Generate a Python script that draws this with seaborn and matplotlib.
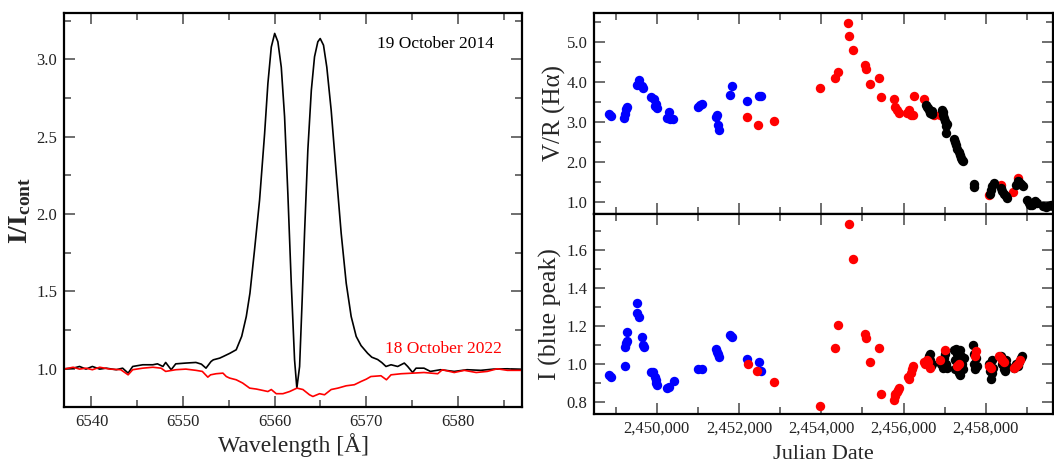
import numpy as np
import pandas as pd
import matplotlib
matplotlib.use("Agg")
import matplotlib.pyplot as plt
from matplotlib.ticker import MultipleLocator, FuncFormatter, FormatStrFormatter
import seaborn as sns

# ---------------- data: left panel (H-alpha profiles) ----------------
wl_2014 = [6537.0, 6538.0, 6538.7, 6539.4, 6540.1, 6540.9, 6541.6, 6542.7, 6543.4, 6544.0,
           6544.5, 6545.6, 6546.7, 6547.2, 6547.8, 6548.1, 6548.7, 6549.2, 6550.3, 6551.4,
           6552.0, 6552.5, 6553.05, 6553.3, 6554.0, 6554.4, 6555.1, 6555.8, 6556.4, 6556.9,
           6557.3, 6557.8, 6558.35, 6558.9, 6559.26, 6559.63, 6560.0, 6560.35, 6560.72, 6561.08,
           6561.44, 6561.81, 6562.17, 6562.42, 6562.72, 6563.0, 6563.26, 6563.62, 6564.0, 6564.35,
           6564.71, 6564.97, 6565.33, 6565.69, 6566.17, 6566.72, 6567.26, 6567.81, 6568.35, 6568.9,
           6569.43, 6570.15, 6570.6, 6571.24, 6571.7, 6572.15, 6572.7, 6573.43, 6574.15, 6574.52,
           6575.06, 6575.43, 6576.3, 6577.0, 6578.1, 6579.6, 6581.0, 6582.5, 6583.9, 6585.4, 6587.0]
fl_2014 = [1.000, 1.004, 1.015, 0.998, 1.015, 0.998, 1.004, 0.994, 1.004, 0.972,
           1.015, 1.026, 1.026, 1.032, 1.015, 1.041, 0.994, 1.032, 1.037, 1.041,
           1.030, 1.004, 1.047, 1.058, 1.069, 1.080, 1.100, 1.123, 1.210, 1.338,
           1.489, 1.768, 2.090, 2.520, 2.845, 3.080, 3.168, 3.114, 2.950, 2.630,
           2.130, 1.553, 1.058, 0.875, 1.015, 1.445, 1.876, 2.414, 2.800, 3.017,
           3.114, 3.135, 3.092, 2.950, 2.670, 2.264, 1.876, 1.553, 1.338, 1.209,
           1.150, 1.100, 1.075, 1.060, 1.040, 1.015, 1.026, 1.015, 1.037, 1.015,
           0.976, 1.004, 1.004, 0.983, 0.994, 0.983, 0.994, 0.990, 0.998, 1.000, 0.994]

wl_2022 = [6537.0, 6538.0, 6538.7, 6539.4, 6540.1, 6540.9, 6542.0, 6543.2, 6544.0, 6544.5,
           6545.6, 6546.7, 6547.6, 6548.1, 6549.2, 6550.3, 6551.4, 6552.1, 6552.7, 6553.0,
           6553.6, 6554.35, 6554.72, 6555.08, 6555.8, 6556.5, 6557.27, 6558.0, 6558.72, 6559.26,
           6559.63, 6560.17, 6560.9, 6561.63, 6562.43, 6563.08, 6563.8, 6564.17, 6564.9, 6565.44,
           6566.17, 6566.9, 6567.8, 6568.7, 6569.43, 6570.0, 6570.5, 6571.6, 6572.2, 6572.7,
           6573.8, 6575.1, 6576.3, 6577.8, 6578.3, 6579.6, 6580.7, 6582.0, 6583.2, 6584.3,
           6585.4, 6587.0]
fl_2022 = [0.998, 1.010, 0.998, 1.004, 0.994, 1.010, 0.998, 0.994, 0.961, 0.994,
           1.004, 1.010, 1.004, 0.983, 0.994, 0.998, 0.990, 0.983, 0.946, 0.961,
           0.968, 0.972, 0.950, 0.940, 0.929, 0.908, 0.875, 0.869, 0.860, 0.853,
           0.866, 0.839, 0.839, 0.853, 0.875, 0.866, 0.832, 0.821, 0.839, 0.832,
           0.866, 0.875, 0.890, 0.897, 0.918, 0.933, 0.950, 0.955, 0.929, 0.961,
           0.968, 0.972, 0.976, 0.968, 0.994, 0.976, 0.990, 0.976, 0.983, 1.000,
           0.990, 0.990]

# ---------------- data: V/R (top right) ----------------
vr_blue_jd = [2448839, 2448888, 2449211, 2449230, 2449260, 2449285, 2449513, 2449577, 2449640, 2449674,
              2449854, 2449935, 2449960, 2449975, 2450000, 2450258, 2450300, 2450320, 2450400,
              2451013, 2451050, 2451096, 2451437, 2451470, 2451480, 2451500, 2451768, 2451826,
              2452191, 2452474, 2452532]
vr_blue = [3.20, 3.15, 3.09, 3.19, 3.31, 3.38, 3.92, 4.05, 3.90, 3.85,
           3.63, 3.58, 3.40, 3.45, 3.34, 3.10, 3.24, 3.07, 3.08,
           3.37, 3.41, 3.45, 3.12, 3.17, 2.93, 2.80, 3.67, 3.88,
           3.51, 3.65, 3.64]

vr_red_jd = [2452200, 2452459, 2452856, 2453976, 2454342, 2454398, 2454658, 2454682, 2454772,
             2455072, 2455080, 2455177, 2455413, 2455454, 2455761, 2455790, 2455850, 2455883,
             2456087, 2456140, 2456190, 2456233, 2456249, 2456493, 2456736, 2456882,
             2458075, 2458359, 2458669, 2458781]
vr_red = [3.12, 2.91, 3.03, 3.85, 4.09, 4.24, 5.46, 5.15, 4.78,
          4.42, 4.32, 3.94, 4.09, 3.61, 3.57, 3.38, 3.29, 3.22,
          3.22, 3.30, 3.17, 3.17, 3.65, 3.57, 3.17, 3.17,
          1.18, 1.43, 1.26, 1.60]

vr_black_jd = [2456540, 2456570, 2456600, 2456620, 2456650, 2456680, 2456700,
               2456930, 2456950, 2456970, 2456990, 2457010, 2457030, 2457037, 2457060,
               2457220, 2457250, 2457280, 2457310, 2457340, 2457370, 2457400, 2457430, 2457450,
               2457700, 2457720,
               2458100, 2458130, 2458160, 2458190,
               2458360, 2458400, 2458440, 2458480, 2458520,
               2458730, 2458770, 2458810, 2458860, 2458900,
               2459000, 2459040, 2459080, 2459120, 2459160, 2459200, 2459240,
               2459400, 2459460, 2459520, 2459580, 2459630]
vr_black = [3.42, 3.38, 3.35, 3.30, 3.22, 3.20, 3.28,
            3.30, 3.25, 3.18, 3.10, 3.02, 2.90, 2.72, 2.95,
            2.58, 2.50, 2.42, 2.33, 2.25, 2.18, 2.10, 2.04, 2.01,
            1.45, 1.38,
            1.20, 1.30, 1.40, 1.47,
            1.35, 1.28, 1.20, 1.14, 1.10,
            1.42, 1.52, 1.50, 1.45, 1.40,
            1.05, 0.97, 0.93, 0.93, 0.97, 1.03, 0.98,
            0.90, 0.88, 0.90, 0.92, 0.90]

# ---------------- data: blue-peak intensity (bottom right) ----------------
ib_blue_jd = [2448839, 2448888, 2449228, 2449228, 2449240, 2449270, 2449285, 2449513, 2449513, 2449577,
              2449650, 2449674, 2449680, 2449854, 2449919, 2449959, 2449975, 2449990, 2450000,
              2450258, 2450290, 2450421, 2451013, 2451096, 2451437, 2451460, 2451480, 2451500,
              2451768, 2451826, 2452191, 2452474, 2452532]
ib_blue = [0.940, 0.928, 0.989, 1.089, 1.107, 1.120, 1.168, 1.321, 1.270, 1.247,
           1.139, 1.098, 1.086, 0.958, 0.958, 0.932, 0.915, 0.900, 0.888,
           0.870, 0.879, 0.909, 0.970, 0.970, 1.076, 1.060, 1.050, 1.037,
           1.151, 1.139, 1.023, 1.011, 0.962]

ib_black_jd = [2456560, 2456590, 2456610, 2456630, 2456650, 2456670, 2456690,
               2456920, 2456950, 2456980, 2457000, 2457030, 2457060,
               2457220, 2457240, 2457260, 2457280, 2457300, 2457320, 2457340, 2457360,
               2457380, 2457400, 2457420, 2457440, 2457460,
               2457680, 2457700, 2457720, 2457740, 2457760, 2457780,
               2458080, 2458100, 2458120, 2458140, 2458160, 2458180,
               2458370, 2458400, 2458430, 2458460, 2458490, 2458510,
               2458690, 2458730, 2458770, 2458810, 2458850, 2458880]
ib_black = [1.00, 1.02, 1.04, 1.05, 1.02, 0.99, 1.00,
            1.00, 0.98, 1.03, 1.05, 1.00, 0.98,
            1.07, 1.02, 0.97, 1.08, 1.05, 1.00, 0.95, 0.94,
            1.07, 1.04, 1.00, 0.97, 1.03,
            1.10, 1.05, 1.00, 0.97, 1.03, 0.99,
            1.00, 0.96, 0.92, 0.95, 1.02, 0.98,
            1.04, 1.00, 0.97, 0.96, 1.02, 0.99,
            0.98, 1.00, 0.99, 1.01, 1.03, 1.04]

ib_red_jd = [2452210, 2452435, 2452856, 2453976, 2454342, 2454398, 2454666, 2454772,
             2455072, 2455080, 2455177, 2455413, 2455454,
             2455760, 2455780, 2455800, 2455830, 2455860, 2455890,
             2456110, 2456140, 2456170, 2456200, 2456230,
             2456490, 2456520, 2456560, 2456600, 2456650, 2456882, 2456996,
             2457300, 2457350, 2457730, 2457750, 2458080, 2458120,
             2458320, 2458370, 2458400, 2458430,
             2458690, 2458740, 2458790, 2458840]
ib_red = [0.998, 0.962, 0.902, 0.779, 1.081, 1.207, 1.735, 1.555,
          1.156, 1.134, 1.010, 1.081, 0.839,
          0.810, 0.830, 0.840, 0.850, 0.860, 0.870,
          0.930, 0.920, 0.950, 0.970, 0.990,
          1.010, 1.000, 1.020, 1.010, 0.980, 1.020, 1.072,
          0.990, 1.000, 1.040, 1.065, 0.990, 0.980,
          1.040, 1.030, 1.020, 1.010,
          0.980, 0.990, 1.000, 1.020]

# ---------------- style ----------------
sns.set_theme(style="ticks")
plt.rcParams["font.family"] = ["Liberation Serif", "DejaVu Serif"]
plt.rcParams["mathtext.fontset"] = "custom"
plt.rcParams["mathtext.rm"] = "Liberation Serif"
plt.rcParams["mathtext.bf"] = "Liberation Serif:bold"

BLUE, RED, BLACK = "#0000ff", "#ff0000", "#000000"
MS = 46
W, H = 1054, 463
fig = plt.figure(figsize=(W / 100, H / 100), dpi=100)

def frame(ax):
    for s in ax.spines.values():
        s.set_linewidth(1.6)
        s.set_color("black")
    ax.tick_params(which="both", direction="in", top=True, right=True,
                   color="#555555", labelsize=12, labelcolor="#222222", pad=5)
    ax.tick_params(which="major", length=8, width=1.2)
    ax.tick_params(which="minor", length=5, width=1.2)

def axes_px(x0, x1, y0, y1):
    return fig.add_axes([x0 / W, 1 - y1 / H, (x1 - x0) / W, (y1 - y0) / H])

# ---------------- left panel ----------------
axL = axes_px(64, 522, 13, 407)
sns.lineplot(x=wl_2014, y=fl_2014, ax=axL, color=BLACK, lw=1.2, sort=False, estimator=None)
sns.lineplot(x=wl_2022, y=fl_2022, ax=axL, color=RED, lw=1.2, sort=False, estimator=None)
axL.set_xlim(6537, 6587)
axL.set_ylim(0.753, 3.3)
axL.xaxis.set_major_locator(MultipleLocator(10))
axL.xaxis.set_minor_locator(MultipleLocator(5))
axL.yaxis.set_major_locator(MultipleLocator(0.5))
axL.yaxis.set_minor_locator(MultipleLocator(0.25))
axL.yaxis.set_major_formatter(FormatStrFormatter("%.1f"))
frame(axL)
axL.set_xlabel("Wavelength [Å]", fontsize=17)
axL.xaxis.set_label_coords(0.5, -0.065)
axL.set_ylabel(r"$\mathbf{I/I_{cont}}$", fontsize=20)
axL.yaxis.set_label_coords(-0.068, 0.5)
axL.text(0.939, 0.921, "19 October 2014", transform=axL.transAxes, ha="right", va="center",
         fontsize=12.5, color="black")
axL.text(0.956, 0.148, "18 October 2022", transform=axL.transAxes, ha="right", va="center",
         fontsize=12.5, color=RED)

# ---------------- right top ----------------
jd_fmt = FuncFormatter(lambda v, p: f"{int(round(v)):,}")
XL = (2448480, 2459640)
axT = axes_px(594.3, 1053.3, 12.7, 214)
sns.scatterplot(x=vr_blue_jd, y=vr_blue, ax=axT, color=BLUE, s=MS, linewidth=0)
sns.scatterplot(x=vr_red_jd, y=vr_red, ax=axT, color=RED, s=MS, linewidth=0)
sns.scatterplot(x=vr_black_jd, y=vr_black, ax=axT, color=BLACK, s=MS, linewidth=0)
axT.set_xlim(*XL)
axT.set_ylim(0.70, 5.72)
axT.xaxis.set_major_locator(MultipleLocator(2000))
axT.xaxis.set_minor_locator(MultipleLocator(1000))
axT.yaxis.set_major_locator(MultipleLocator(1.0))
axT.yaxis.set_minor_locator(MultipleLocator(0.5))
axT.yaxis.set_major_formatter(FormatStrFormatter("%.1f"))
frame(axT)
axT.tick_params(labelbottom=False)
axT.set_ylabel("V/R (Hα)", fontsize=18)
axT.yaxis.set_label_coords(-0.062, 0.5)

# ---------------- right bottom ----------------
axB = axes_px(594.3, 1053.3, 214, 414)
sns.scatterplot(x=ib_blue_jd, y=ib_blue, ax=axB, color=BLUE, s=MS, linewidth=0)
sns.scatterplot(x=ib_black_jd, y=ib_black, ax=axB, color=BLACK, s=MS, linewidth=0)
sns.scatterplot(x=ib_red_jd, y=ib_red, ax=axB, color=RED, s=MS, linewidth=0)
axB.set_xlim(*XL)
axB.set_ylim(0.735, 1.79)
axB.xaxis.set_major_locator(MultipleLocator(2000))
axB.xaxis.set_minor_locator(MultipleLocator(1000))
axB.xaxis.set_major_formatter(jd_fmt)
axB.yaxis.set_major_locator(MultipleLocator(0.2))
axB.yaxis.set_minor_locator(MultipleLocator(0.1))
axB.yaxis.set_major_formatter(FormatStrFormatter("%.1f"))
frame(axB)
axB.set_xlabel("Julian Date", fontsize=16)
axB.xaxis.set_label_coords(0.5, -0.155)
axB.set_ylabel("I (blue peak)", fontsize=18.5)
axB.yaxis.set_label_coords(-0.070, 0.5)

fig.savefig("out.png", dpi=100)
